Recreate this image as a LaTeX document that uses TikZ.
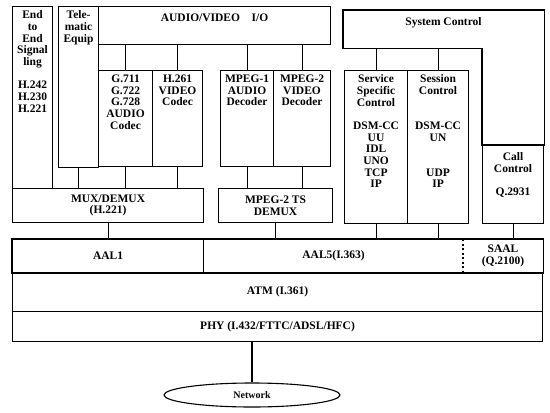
\documentclass[tikz,border=0pt]{standalone}
\usepackage{fontspec}
\setmainfont{Liberation Serif}
\usetikzlibrary{shapes.geometric}

\begin{document}
\begin{tikzpicture}[x=1pt,y=-1pt,
    box/.style={draw,line width=1.1pt,inner sep=0pt,anchor=north west,align=center,
      font=\bfseries\fontsize{11.5}{11.7}\selectfont},
    hd/.style={label={[anchor=north,align=center,inner sep=0pt,yshift=-4.5pt,
      font=\bfseries\fontsize{11.5}{11.7}\selectfont]north:#1}},
    hdlow/.style={label={[anchor=north,align=center,inner sep=0pt,yshift=-7.5pt,
      font=\bfseries\fontsize{11.5}{11.7}\selectfont]north:#1}}]
\useasboundingbox (0,0) rectangle (550,413);

% terminal side
\node[box,minimum width=40,minimum height=182,
  hd={End\\to\\End\\Signal\\ling\\[11.7pt]H.242\\H.230\\H.221}] (ete) at (12,6) {};
\node[box,minimum width=40,minimum height=161,hd={Tele-\\matic\\Equip}] (tele) at (58,6) {};
\node[box,minimum width=232,minimum height=38,hdlow={AUDIO/VIDEO\quad I/O}] (av) at (98,6) {};

\node[box,minimum width=54,minimum height=96,
  hd={G.711\\G.722\\G.728\\AUDIO\\Codec}] (g711) at (98,70) {};
\node[box,minimum width=50,minimum height=96,hd={H.261\\VIDEO\\Codec}] (h261) at (152,70) {};
\node[box,minimum width=53,minimum height=96,hd={MPEG-1\\AUDIO\\Decoder}] (mpa) at (220,70) {};
\node[box,minimum width=57,minimum height=96,hd={MPEG-2\\VIDEO\\Decoder}] (mpv) at (273,70) {};

\node[box,minimum width=191,minimum height=34] (mux) at (12,188) {MUX/DEMUX\\(H.221)};
\node[box,minimum width=114,minimum height=34] (ts) at (218,188) {MPEG-2 TS\\DEMUX};

% control side
\node[box,draw=none,minimum width=200,minimum height=37,hdlow={System Control}] (sys) at (343,10) {};
\node[box,minimum width=63,minimum height=153,
  hd={Service\\Specific\\Control\\[11.7pt]DSM-CC\\UU\\IDL\\UNO\\TCP\\IP}] (ssc) at (344,70) {};
\node[box,minimum width=61,minimum height=153,
  hd={Session\\Control\\[23.4pt]DSM-CC\\UN\\[23.4pt]UDP\\IP}] (sess) at (407,70) {};
\node[box,minimum width=61,minimum height=78,hdlow={Call\\Control\\[11.7pt]Q.2931}] (call) at (482,145) {};
\draw[line width=1.1pt] (sys.north west) -- (sys.north east) -- (call.north east)
  -- (call.north west) -- (call.north west |- sys.south) -- (sys.south west) -- cycle;

% network layers
\node[box,minimum width=191,minimum height=33] (aal1) at (12,239) {AAL1};
\node[box,draw=none,minimum width=260,minimum height=33] (aal5) at (203,239) {AAL5(I.363)};
\node[box,draw=none,minimum width=79,minimum height=33] (saal) at (463,239) {SAAL\\(Q.2100)};
\draw[line width=1.1pt] (aal1.north west) rectangle (saal.south east);
\draw[line width=1.1pt,dash pattern=on 2pt off 2.5pt] (saal.north west) -- (saal.south west);
\node[box,minimum width=530,minimum height=39] (atm) at (12,272) {ATM (I.361)};
\node[box,minimum width=530,minimum height=30] (phy) at (12,311) {PHY (I.432/FTTC/ADSL/HFC)};
\node[box,ellipse,anchor=center,minimum width=176,minimum height=24,
  font=\bfseries\fontsize{10}{11}\selectfont] (net) at (252,395) {Network};

% connectors
\draw[line width=1.1pt] (g711.north) -- (g711.north |- av.south);
\draw[line width=1.1pt] (h261.north) -- (h261.north |- av.south);
\draw[line width=1.1pt] (mpa.north) -- (mpa.north |- av.south);
\draw[line width=1.1pt] (mpv.north) -- (mpv.north |- av.south);
\draw[line width=1.1pt] (tele.south) -- (tele.south |- mux.north);
\draw[line width=1.1pt] (g711.south) -- (g711.south |- mux.north);
\draw[line width=1.1pt] (h261.south) -- (h261.south |- mux.north);
\draw[line width=1.1pt] (mpa.south) -- (mpa.south |- ts.north);
\draw[line width=1.1pt] (mpv.south) -- (mpv.south |- ts.north);
\draw[line width=1.1pt] (ssc.north) -- (ssc.north |- sys.south);
\draw[line width=1.1pt] (sess.north) -- (sess.north |- sys.south);
\draw[line width=1.1pt] (mux.south) -- (mux.south |- aal1.north);
\draw[line width=1.1pt] (ts.south) -- (ts.south |- aal5.north);
\draw[line width=1.1pt] (ssc.south) -- (ssc.south |- aal5.north);
\draw[line width=1.1pt] (sess.south) -- (sess.south |- aal5.north);
\draw[line width=1.1pt] (call.south) -- (call.south |- saal.north);
\draw[line width=1.1pt] (net.north) -- (net.north |- phy.south);

\end{tikzpicture}
\end{document}
